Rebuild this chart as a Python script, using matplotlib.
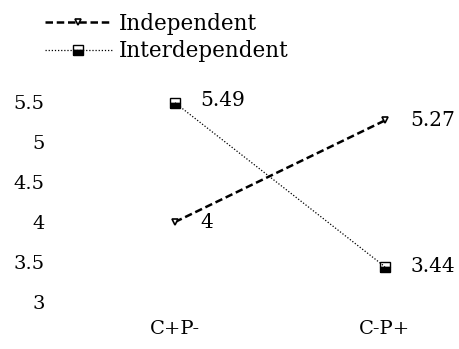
import matplotlib.pyplot as plt

plt.rcParams['font.family'] = ['DejaVu Serif', 'Liberation Serif']

categories = ["C+P-", "C-P+"]
independent = [4.00, 5.27]
interdependent = [5.49, 3.44]
yticks = [3, 3.5, 4, 4.5, 5, 5.5]
ytick_labels = ["3", "3.5", "4", "4.5", "5", "5.5"]

fig = plt.figure(figsize=(4.6, 3.49), dpi=100)
ax = fig.add_axes([60 / 460, 47 / 349, 395 / 460, 208 / 349])

x = list(range(len(categories)))
ax.plot(x, independent, color="black", lw=1.8, ls=(0, (3, 1.5)),
        marker="v", ms=5, mfc="white", mec="black", mew=1.2, label="Independent")
ax.plot(x, interdependent, color="black", lw=0.9, ls=(0, (1, 1.5)),
        marker="s", ms=7, fillstyle="bottom", mfc="black", mec="black", mew=1, label="Interdependent")

for xi, v in zip(x, independent):
    ax.annotate(f"{v:g}", (xi, v), xytext=(18, 0), textcoords="offset points",
                va="center", ha="left", fontsize=14.5)
for xi, v in zip(x, interdependent):
    ax.annotate(f"{v:g}", (xi, v), xytext=(18, 2 if xi == 0 else 0), textcoords="offset points",
                va="center", ha="left", fontsize=14.5)

ax.set_xlim(-115 / 210, 1 + 70 / 210)
ax.set_ylim(3, 5.6)
ax.set_yticks(yticks)
ax.set_yticklabels(ytick_labels)
ax.set_xticks(x)
ax.set_xticklabels(categories)
ax.tick_params(axis="y", length=0, pad=11, labelsize=14)
ax.tick_params(axis="x", length=0, pad=13, labelsize=14)
for s in ax.spines.values():
    s.set_visible(False)

fig.legend(loc="upper left", bbox_to_anchor=(34 / 460, 1 - 2 / 349), frameon=False,
           fontsize=15.5, handlelength=3.1, handletextpad=0.35, labelspacing=0.25, borderpad=0)

fig.savefig("out.png", dpi=100)
